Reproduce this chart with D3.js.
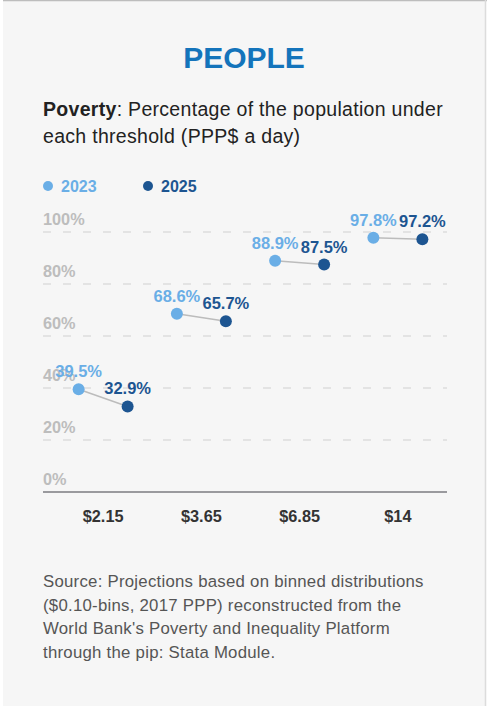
<!DOCTYPE html>
<html>
<head>
<meta charset="utf-8">
<script src="https://cdn.jsdelivr.net/npm/d3@7"></script>
<style>
  html, body { margin: 0; padding: 0; background: #ffffff; }
  svg { display: block; font-family: "Liberation Sans", Arial, Helvetica, sans-serif; }
</style>
</head>
<body>
<script>
// ---- data ----
const thresholds = ["$2.15", "$3.65", "$6.85", "$14"];
const years = ["2023", "2025"];
const values2023 = [39.5, 68.6, 88.9, 97.8];
const values2025 = [32.9, 65.7, 87.5, 97.2];
const yTicks = [0, 20, 40, 60, 80, 100];
const colors = ["#6aaee6", "#1d5591"];
const sourceLines = [
  "Source: Projections based on binned distributions",
  "($0.10-bins, 2017 PPP) reconstructed from the",
  "World Bank's Poverty and Inequality Platform",
  "through the pip: Stata Module."
];

const W = 487, H = 706;
const svg = d3.select("body").append("svg").attr("width", W).attr("height", H);

// panel
svg.append("rect").attr("x", 3).attr("y", 0).attr("width", 483).attr("height", H).attr("fill", "#f6f6f6");
svg.append("line").attr("x1", 3).attr("x2", 487).attr("y1", 0.5).attr("y2", 0.5).attr("stroke", "#bdbdbd").attr("stroke-width", 1.5);
svg.append("line").attr("x1", 485.5).attr("x2", 485.5).attr("y1", 0).attr("y2", H).attr("stroke", "#dcdcdc").attr("stroke-width", 1.5);

// title
svg.append("text").attr("x", 244).attr("y", 68).attr("text-anchor", "middle")
  .attr("font-size", 30).attr("font-weight", "bold").attr("fill", "#1474bb").text("PEOPLE");

const sub = svg.append("text").attr("x", 43).attr("y", 116).attr("font-size", 19.5)
  .attr("letter-spacing", 0.3).attr("fill", "#222");
sub.append("tspan").attr("font-weight", "bold").text("Poverty");
sub.append("tspan").text(": Percentage of the population under");
svg.append("text").attr("x", 43).attr("y", 143).attr("font-size", 19.5).attr("letter-spacing", 0.3)
  .attr("fill", "#222").text("each threshold (PPP$ a day)");

// legend
const legendX = [48, 148];
years.forEach((yr, i) => {
  const g = svg.append("g").attr("transform", `translate(${legendX[i]},186)`);
  g.append("circle").attr("r", 5).attr("fill", colors[i]);
  g.append("text").attr("x", 13).attr("y", 5.5).attr("font-size", 16).attr("font-weight", "bold")
    .attr("fill", colors[i]).text(yr);
});

// scales
const x = d3.scaleBand().domain(thresholds).range([54, 447]).padding(0);
const y = d3.scaleLinear().domain([0, 100]).range([492, 232]);
const offset = 24.5;

// grid
const grid = svg.append("g");
grid.selectAll("line.grid").data(yTicks.filter(d => d > 0)).join("line")
  .attr("x1", 43).attr("x2", 447)
  .attr("y1", d => y(d)).attr("y2", d => y(d))
  .attr("stroke", "#dddddd").attr("stroke-width", 1.5).attr("stroke-dasharray", "8,12");

// y labels
svg.append("g").selectAll("text").data(yTicks).join("text")
  .attr("x", 43).attr("y", d => y(d) - 7)
  .attr("font-size", 16.3).attr("font-weight", "bold").attr("fill", "#bdbdbd")
  .text(d => d + "%");

// x axis
const xAxis = svg.append("g").attr("transform", "translate(0,492)")
  .call(d3.axisBottom(x).tickSize(0).tickPadding(18));
xAxis.select(".domain").remove();
xAxis.append("line").attr("x1", 43).attr("x2", 447).attr("y1", 0).attr("y2", 0)
  .attr("stroke", "#9a9a9e").attr("stroke-width", 2);
xAxis.selectAll(".tick text").attr("font-size", 16.3).attr("font-weight", "bold")
  .attr("fill", "#333").attr("font-family", "Liberation Sans, Arial, sans-serif");

// data rows
const rows = thresholds.map((t, i) => ({ t, a: values2023[i], b: values2025[i] }));
const cx = (d, k) => x(d.t) + x.bandwidth() / 2 + (k === 0 ? -offset : offset);

const g = svg.append("g");
g.selectAll("line.conn").data(rows).join("line")
  .attr("x1", d => cx(d, 0)).attr("y1", d => y(d.a))
  .attr("x2", d => cx(d, 1)).attr("y2", d => y(d.b))
  .attr("stroke", "#bcbcbc").attr("stroke-width", 1.5);

[values2023, values2025].forEach((vals, k) => {
  const key = k === 0 ? "a" : "b";
  g.selectAll("circle.s" + k).data(rows).join("circle")
    .attr("cx", d => cx(d, k)).attr("cy", d => y(d[key])).attr("r", 6)
    .attr("fill", colors[k]);
  g.selectAll("text.s" + k).data(rows).join("text")
    .attr("x", d => cx(d, k)).attr("y", d => y(d[key]) - 12)
    .attr("text-anchor", "middle").attr("font-size", 16.5).attr("font-weight", "bold")
    .attr("fill", colors[k]).text(d => d3.format(".1f")(d[key]) + "%");
});

// source
svg.append("g").selectAll("text").data(sourceLines).join("text")
  .attr("x", 43).attr("y", (d, i) => 587 + i * 23.7)
  .attr("font-size", 16.8).attr("letter-spacing", 0.25).attr("fill", "#555").text(d => d);
</script>
</body>
</html>
